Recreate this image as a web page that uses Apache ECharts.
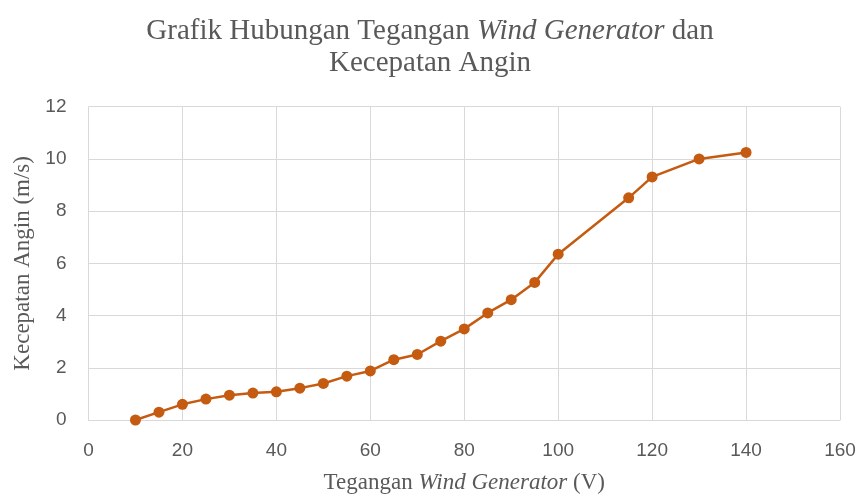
<!DOCTYPE html>
<html>
<head>
<meta charset="utf-8">
<script src="https://cdn.jsdelivr.net/npm/echarts@6/dist/echarts.min.js"></script>
<style>
html,body{margin:0;padding:0;background:#fff;}
#chart{width:860px;height:499px;}
</style>
</head>
<body>
<div id="chart"></div>
<script>
// Data
var voltage = [10, 15, 20, 25, 30, 35, 40, 45, 50, 55, 60, 65, 70, 75, 80, 85, 90, 95, 100, 115, 120, 130, 140];
var windSpeed = [0, 0.3, 0.6, 0.8, 0.95, 1.03, 1.08, 1.22, 1.4, 1.68, 1.88, 2.31, 2.51, 3.02, 3.49, 4.1, 4.61, 5.27, 6.35, 8.51, 9.31, 10.0, 10.25];
var xTicks = [0, 20, 40, 60, 80, 100, 120, 140, 160];
var yTicks = [0, 2, 4, 6, 8, 10, 12];
var titleText = 'Grafik Hubungan Tegangan {i|Wind Generator} dan\nKecepatan Angin';
var xName = 'Tegangan {i|Wind Generator} (V)';
var yName = 'Kecepatan Angin (m/s)';

var points = voltage.map(function (v, i) { return [v, windSpeed[i]]; });
var serif = '"Liberation Serif", "Times New Roman", serif';
var sans = '"Liberation Sans", Arial, sans-serif';
var textGrey = '#595959';
var gridGrey = '#d9d9d9';

var chart = echarts.init(document.getElementById('chart'), null, {renderer: 'canvas'});
chart.setOption({
  animation: false,
  backgroundColor: '#ffffff',
  title: {
    text: titleText,
    left: 'center',
    top: 10,
    textStyle: {
      fontFamily: serif,
      fontSize: 29,
      fontWeight: 'normal',
      color: textGrey,
      lineHeight: 32,
      rich: {
        i: {fontFamily: serif, fontSize: 29, fontStyle: 'italic', color: textGrey, lineHeight: 32}
      }
    }
  },
  grid: {left: 88.5, right: 20, top: 106.7, bottom: 77.3, containLabel: false},
  xAxis: {
    type: 'value',
    min: xTicks[0],
    max: xTicks[xTicks.length - 1],
    interval: xTicks[1] - xTicks[0],
    name: xName,
    nameLocation: 'middle',
    nameGap: 51,
    nameTextStyle: {
      fontFamily: serif, fontSize: 23, color: textGrey,
      rich: {i: {fontFamily: serif, fontSize: 23, fontStyle: 'italic', color: textGrey}}
    },
    axisLine: {show: true, lineStyle: {color: gridGrey, width: 1}},
    axisTick: {show: false},
    axisLabel: {fontFamily: sans, fontSize: 19, color: textGrey, margin: 21},
    splitLine: {show: true, lineStyle: {color: gridGrey, width: 1}}
  },
  yAxis: {
    type: 'value',
    min: yTicks[0],
    max: yTicks[yTicks.length - 1],
    interval: yTicks[1] - yTicks[0],
    name: yName,
    nameLocation: 'middle',
    nameRotate: 90,
    nameGap: 54,
    nameTextStyle: {fontFamily: serif, fontSize: 23, color: textGrey},
    axisLine: {show: false},
    axisTick: {show: false},
    axisLabel: {fontFamily: sans, fontSize: 19, color: textGrey, margin: 22},
    splitLine: {show: true, lineStyle: {color: gridGrey, width: 1}}
  },
  series: [{
    type: 'line',
    data: points,
    symbol: 'circle',
    symbolSize: 11,
    lineStyle: {color: '#C55A11', width: 2.5},
    itemStyle: {color: '#C55A11'},
    clip: false
  }]
});
</script>
</body>
</html>
